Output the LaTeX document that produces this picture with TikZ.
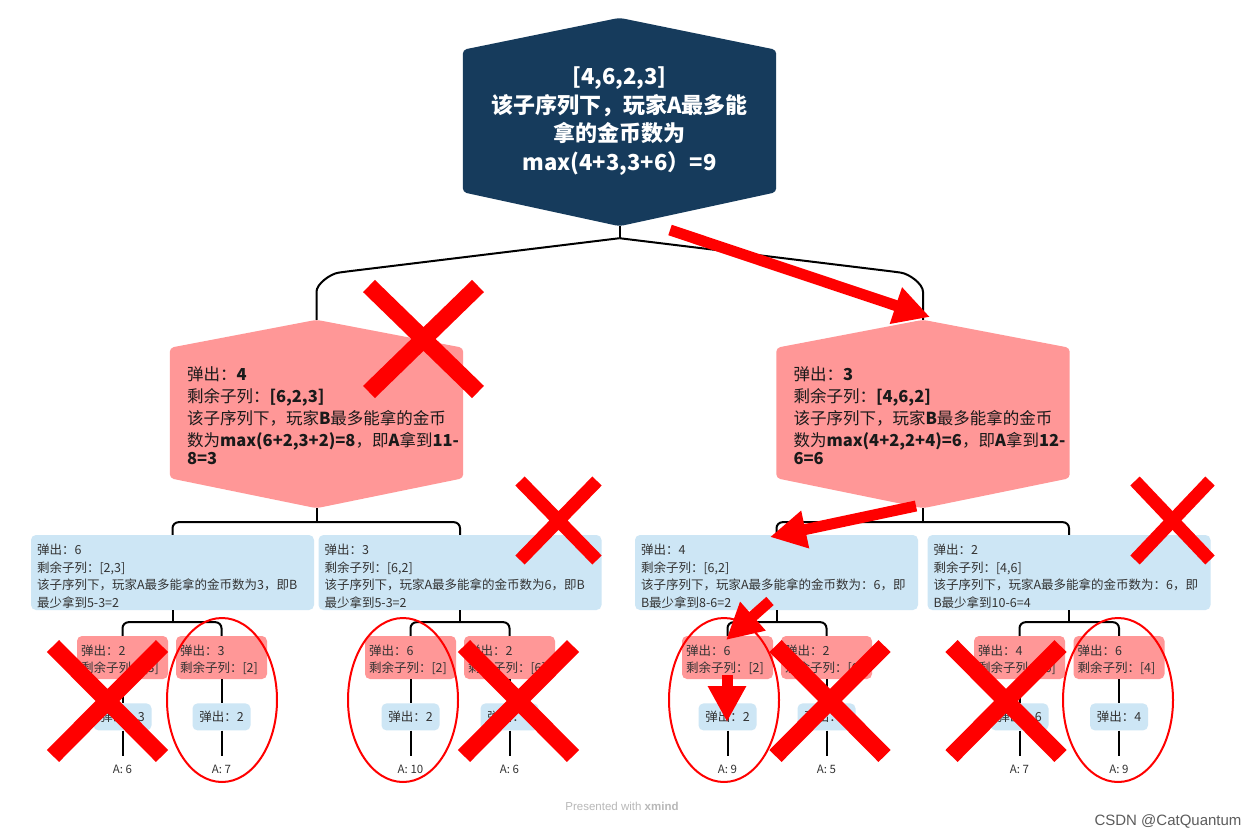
\documentclass[tikz,border=0pt]{standalone}
\usepackage{fontspec}
\setmainfont{Noto Sans CJK SC}
\newfontfamily\wmfont{Liberation Sans}
\usepackage{tikz}
\usetikzlibrary{arrows.meta,positioning,backgrounds}
\definecolor{rootCol}{HTML}{163B5C}
\definecolor{pinkCol}{HTML}{FF9797}
\definecolor{blueCol}{HTML}{CDE6F5}
\definecolor{markRed}{HTML}{FF0000}
\definecolor{textGray}{HTML}{333333}
\definecolor{textDark}{HTML}{1A1A1A}
\definecolor{wmGray}{HTML}{B8B8B8}
\tikzset{
  hexroot/.style={minimum width=313pt, minimum height=142pt, align=center, inner sep=0pt,
        text=white, font=\fontsize{22}{28.5}\selectfont\bfseries, execute at begin node=\rule{0pt}{25pt}},
  hexpink/.style={minimum width=293pt, minimum height=130pt, text width=259pt, align=left,
        inner sep=0pt, text=textDark, font=\fontsize{16.5}{22}\selectfont,
        execute at begin node=\rule{0pt}{18.5pt}},
  bluebox/.style={fill=blueCol, rounded corners=5pt, minimum width=283pt, minimum height=75pt,
        text width=271pt, align=left, inner xsep=6pt, inner ysep=0pt, text=textGray,
        font=\fontsize{12.5}{17.5}\selectfont, execute at begin node=\rule{0pt}{18pt}},
  pinkbox/.style={fill=pinkCol, rounded corners=5pt, minimum width=91pt, minimum height=43pt,
        text width=83pt, align=left, inner xsep=4pt, inner ysep=0pt, text=textGray,
        font=\fontsize{12.5}{17.5}\selectfont, execute at begin node=\rule{0pt}{15pt}},
  leafbox/.style={fill=blueCol, rounded corners=5pt, minimum width=58pt, minimum height=27pt,
        inner sep=0pt, text=textGray, font=\fontsize{12.5}{15}\selectfont},
  score/.style={inner xsep=2pt, inner ysep=9pt, text=textGray, font=\fontsize{11.5}{13}\selectfont},
  conn/.style={draw=black, line width=2pt, rounded corners=6pt},
  bigX/.style={draw=markRed, line width=17pt},
  smallX/.style={draw=markRed, line width=13pt},
  ring/.style={draw=markRed, line width=2pt},
  redarrow/.style={draw=markRed, line width=11pt, -{Triangle[length=36pt, width=36pt]}},
}

\begin{document}
\exhyphenpenalty=10000
\hyphenpenalty=10000
\begin{tikzpicture}[x=1pt, y=-1pt]
  \useasboundingbox (0,0) rectangle (1258,839);
  % root and the two hexagons
  \node[hexroot] (root) at (619.5,121)
    {[4,6,2,3]\\该子序列下，玩家A最多能\\拿的金币数为\\max(4+3,3+6）=9};
  \node[hexpink] (hL) at (316.5,413)
    {弹出：\textbf{4}\\剩余子列：\textbf{[6,2,3]}\\该子序列下，玩家\textbf{B}最多能拿的金币\\数为\textbf{max(6+2,3+2)=8}，即\textbf{A}拿到\textbf{11-}\\[-4pt]\textbf{8=3}};
  \node[hexpink] (hR) at (923,413)
    {弹出：\textbf{3}\\剩余子列：\textbf{[4,6,2]}\\该子序列下，玩家\textbf{B}最多能拿的金币\\数为\textbf{max(4+2,2+4)=6}，即\textbf{A}拿到\textbf{12-}\\[-4pt]\textbf{6=6}};
  \coordinate (rootN) at ([yshift=32pt]root.north);
  \coordinate (rootS) at ([yshift=-34pt]root.south);
  \coordinate (hLN) at ([yshift=28pt]hL.north);
  \coordinate (hLS) at ([yshift=-30pt]hL.south);
  \coordinate (hRN) at ([yshift=28pt]hR.north);
  \coordinate (hRS) at ([yshift=-30pt]hR.south);
  \begin{scope}[on background layer]
    \fill[white] (0,0) rectangle (1258,839);
    \fill[rootCol, rounded corners=4pt] (root.north west) -- (rootN) -- (root.north east)
      -- (root.south east) -- (rootS) -- (root.south west) -- cycle;
    \fill[pinkCol, rounded corners=4pt] (hL.north west) -- (hLN) -- (hL.north east)
      -- (hL.south east) -- (hLS) -- (hL.south west) -- cycle;
    \fill[pinkCol, rounded corners=4pt] (hR.north west) -- (hRN) -- (hR.north east)
      -- (hR.south east) -- (hRS) -- (hR.south west) -- cycle;
  \end{scope}

  % second level (player A)
  \node[bluebox] (b1) at (172.5,572.5)
    {弹出：6\\剩余子列：[2,3]\\该子序列下，玩家A最多能拿的金币数为3，即B\\最少拿到5-3=2};
  \node[bluebox] (b2) at (460,572.5)
    {弹出：3\\剩余子列：[6,2]\\该子序列下，玩家A最多能拿的金币数为6，即B\\最少拿到5-3=2};
  \node[bluebox] (b3) at (776.5,572.5)
    {弹出：4\\剩余子列：[6,2]\\该子序列下，玩家A最多能拿的金币数为：6，即\\B最少拿到8-6=2};
  \node[bluebox] (b4) at (1069,572.5)
    {弹出：2\\剩余子列：[4,6]\\该子序列下，玩家A最多能拿的金币数为：6，即\\B最少拿到10-6=4};

  % third level
  \node[pinkbox] (p1a) at (122.5,657.5) {弹出：2\\剩余子列：[3]};
  \node[pinkbox] (p1b) at (221.5,657.5) {弹出：3\\剩余子列：[2]};
  \node[pinkbox] (p2a) at (410.5,657.5) {弹出：6\\剩余子列：[2]};
  \node[pinkbox] (p2b) at (509.5,657.5) {弹出：2\\剩余子列：[6]};
  \node[pinkbox] (p3a) at (727.5,657.5) {弹出：6\\剩余子列：[2]};
  \node[pinkbox] (p3b) at (826.5,657.5) {弹出：2\\剩余子列：[6]};
  \node[pinkbox] (p4a) at (1019.5,657.5) {弹出：4\\剩余子列：[6]};
  \node[pinkbox] (p4b) at (1119,657.5) {弹出：6\\剩余子列：[4]};

  % last pop and score of A
  \node[leafbox, below=24pt of p1a] (l1a) {弹出：3};
  \node[leafbox, below=24pt of p1b] (l1b) {弹出：2};
  \node[leafbox, below=24pt of p2a] (l2a) {弹出：2};
  \node[leafbox, below=24pt of p2b] (l2b) {弹出：6};
  \node[leafbox, below=24pt of p3a] (l3a) {弹出：2};
  \node[leafbox, below=24pt of p3b] (l3b) {弹出：6};
  \node[leafbox, below=24pt of p4a] (l4a) {弹出：6};
  \node[leafbox, below=24pt of p4b] (l4b) {弹出：4};
  \node[score, below=25pt of l1a] (s1a) {A: 6};
  \node[score, below=25pt of l1b] (s1b) {A: 7};
  \node[score, below=25pt of l2a] (s2a) {A: 10};
  \node[score, below=25pt of l2b] (s2b) {A: 6};
  \node[score, below=25pt of l3a] (s3a) {A: 9};
  \node[score, below=25pt of l3b] (s3b) {A: 5};
  \node[score, below=25pt of l4a] (s4a) {A: 7};
  \node[score, below=25pt of l4b] (s4b) {A: 9};

  % tree lines
  \draw[conn] (rootS) -- ++(0,12) coordinate (j0);
  \draw[conn] (hLN) -- ++(0,-22) .. controls +(0,-14) and +(-14,2) .. ++(28,-26) -- (j0);
  \draw[conn] (hRN) -- ++(0,-22) .. controls +(0,-14) and +(14,2) .. ++(-28,-26) -- (j0);
  \draw[conn] (hLS) -- ++(0,14) coordinate (jL);
  \draw[conn] (b1) |- (jL) -| (b2);
  \draw[conn] (hRS) -- ++(0,14) coordinate (jR);
  \draw[conn] (b3) |- (jR) -| (b4);
  \foreach \g in {1,2,3,4} {
    \draw[conn] (b\g.south) -- ++(0,12) coordinate (j\g);
    \draw[conn] (p\g a) |- (j\g) -| (p\g b);
    \draw[conn] (p\g a) -- (l\g a) -- (s\g a);
    \draw[conn] (p\g b) -- (l\g b) -- (s\g b);
  }

  % marks
  \draw[ring] (222,700) ellipse [x radius=55pt, y radius=82pt];
  \draw[ring] (403,700) ellipse [x radius=55pt, y radius=82pt];
  \draw[ring] (724,700) ellipse [x radius=55pt, y radius=82pt];
  \draw[ring] (1118,700) ellipse [x radius=55pt, y radius=82pt];
  \draw[bigX] (369,286) -- (478,392) (369,392) -- (478,286);
  \draw[smallX] (520,481) -- (597,560) (520,560) -- (597,481);
  \draw[smallX] (1135,481) -- (1210,560) (1135,560) -- (1210,481);
  \foreach \cx in {107.5,518.5,830,1006} {
    \draw[bigX] (\cx-54.5,646) -- (\cx+54.5,756) (\cx-54.5,756) -- (\cx+54.5,646);
  }
  \draw[redarrow] (670,230) -- (930,317);
  \draw[redarrow] (916,506) -- (770,537);
  \draw[redarrow] (770,601) -- (726,640);
  \draw[redarrow] (727,675) -- (727,722);

  % watermarks
  \node[text=wmGray, font=\wmfont\fontsize{11.5}{13}\selectfont] (wm) at (622,806)
    {Presented with \textbf{xmind}};
  \node[text=textGray!80, font=\wmfont\fontsize{15}{17}\selectfont] (csdn) at (1168,821)
    {CSDN @CatQuantum};
\end{tikzpicture}
\end{document}
